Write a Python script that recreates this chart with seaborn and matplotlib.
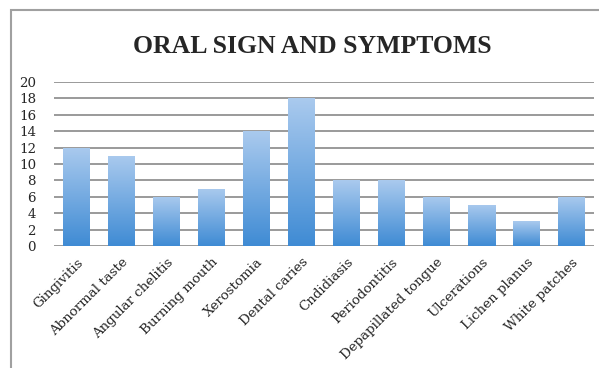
import numpy as np
import pandas as pd
import matplotlib
matplotlib.use("Agg")
import matplotlib.pyplot as plt
from matplotlib.patches import Rectangle
from matplotlib.colors import LinearSegmentedColormap
import seaborn as sns

categories = ["Gingivitis", "Abnormal taste", "Angular chelitis", "Burning mouth",
              "Xerostomia", "Dental caries", "Cndidiasis", "Periodontitis",
              "Depapillated tongue", "Ulcerations", "Lichen planus", "White patches"]
values = [12, 11, 6, 7, 14, 18, 8, 8, 6, 5, 3, 6]
yticks = [0, 2, 4, 6, 8, 10, 12, 14, 16, 18, 20]
title = "ORAL SIGN AND SYMPTOMS"

df = pd.DataFrame({"symptom": categories, "count": values})

sns.set_style("white")
plt.rcParams["font.family"] = ["DejaVu Serif"]

W, H = 599, 368
fig = plt.figure(figsize=(W / 100, H / 100), dpi=100)
ax = fig.add_axes([54 / W, 1 - 246 / H, (594 - 54) / W, (246 - 82) / H])

sns.barplot(data=df, x="symptom", y="count", ax=ax, width=0.6, color="#5b9bd5",
            edgecolor="none", zorder=3)

ax.set_ylim(0, 20)
ax.set_xlim(-0.5, len(categories) - 0.5)
ax.set_yticks(yticks)
ax.set_yticklabels([str(t) for t in yticks], fontsize=9.6)
ax.grid(axis="y", color="#9a9a9a", linewidth=1.4, zorder=0)
ax.grid(axis="x", visible=False)
ax.set_axisbelow(True)
for s in ax.spines.values():
    s.set_visible(False)
ax.tick_params(axis="both", length=0)
ax.tick_params(axis="y", pad=13)
ax.set_xlabel("")
ax.set_ylabel("")
ax.set_xticks(range(len(categories)))
ax.set_xticklabels(categories, rotation=45, ha="right", rotation_mode="anchor",
                   fontsize=9.6)
ax.tick_params(axis="x", pad=7)

# gradient fill clipped to each bar
cmap = LinearSegmentedColormap.from_list("grad", ["#3f8bd4", "#aacaee"])
grad = np.linspace(0, 1, 256).reshape(-1, 1)
for p in list(ax.patches):
    x0, y0 = p.get_x(), p.get_y()
    w, h = p.get_width(), p.get_height()
    p.set_alpha(0)
    im = ax.imshow(grad, cmap=cmap, aspect="auto", origin="lower",
                   extent=[x0, x0 + w, y0, y0 + h], zorder=4, interpolation="bilinear")
    clip = Rectangle((x0, y0), w, h, transform=ax.transData, facecolor="none", edgecolor="none")
    ax.add_patch(clip)
    im.set_clip_path(clip)
ax.set_xlim(-0.5, len(categories) - 0.5)
ax.set_ylim(0, 20)

fig.text(312 / W, 1 - 53 / H, title, ha="center", va="baseline",
         fontsize=18.5, fontweight="bold", family=["Liberation Serif"])

fig.add_artist(Rectangle((11 / W, -0.1), 1.2, 1 - 10 / H + 0.1, transform=fig.transFigure,
                         facecolor="none", edgecolor="#a0a0a0", linewidth=1.5))

fig.savefig("out.png", dpi=100)
